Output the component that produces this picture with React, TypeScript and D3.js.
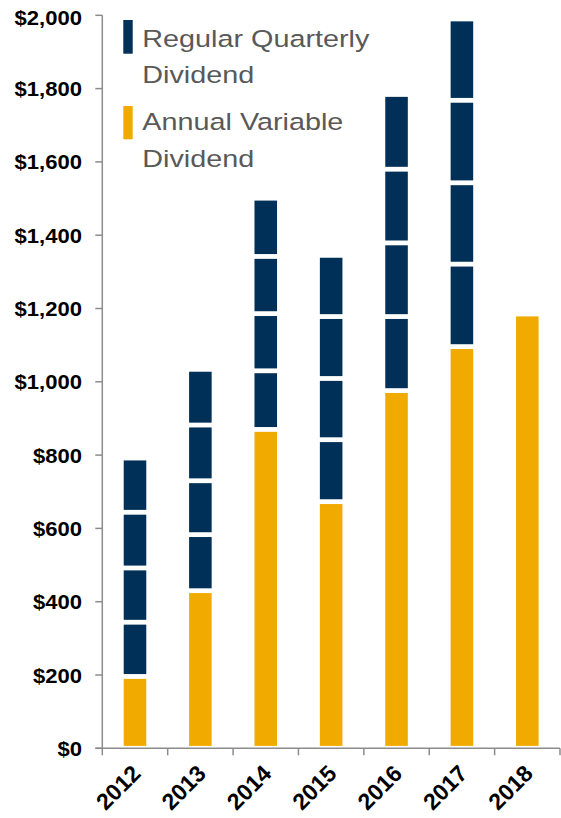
import React from "react";
import * as d3 from "d3";

const years = ["2012", "2013", "2014", "2015", "2016", "2017", "2018"];
const annualVariable = [196, 430, 870, 673, 976, 1096, 1185];
const quarter1 = [148, 153, 160, 169, 202, 225, 0];
const quarter2 = [148, 147, 156, 167, 201, 222, 0];
const quarter3 = [152, 152, 156, 169, 201, 225, 0];
const quarter4 = [148, 152, 159, 167, 204, 222, 0];
const yTicks = [0, 200, 400, 600, 800, 1000, 1200, 1400, 1600, 1800, 2000];
const legendLabels = [
  ["Regular Quarterly", "Dividend"],
  ["Annual Variable", "Dividend"],
];

const NAVY = "#003057";
const ORANGE = "#F1AB00";
const AXIS = "#8c8c8c";
const FONT = "'Liberation Sans', Arial, sans-serif";

export default function App() {
  const W = 561;
  const H = 818;
  const x0 = 102.3;
  const x1 = 560;
  const y = d3.scaleLinear().domain([0, 2000]).range([748.3, 15.3]);
  const x = d3
    .scaleBand<string>()
    .domain(years)
    .range([x0, x1])
    .paddingInner(0.655)
    .paddingOuter(0.3275);
  const step = x.step();
  const gap = 4.8;

  const segments: { key: string; x: number; y0: number; y1: number; color: string }[] = [];
  years.forEach((yr, i) => {
    const parts = [
      { v: annualVariable[i], c: ORANGE },
      { v: quarter1[i], c: NAVY },
      { v: quarter2[i], c: NAVY },
      { v: quarter3[i], c: NAVY },
      { v: quarter4[i], c: NAVY },
    ];
    let acc = 0;
    parts.forEach((p, j) => {
      if (p.v <= 0) return;
      segments.push({ key: `${yr}-${j}`, x: x(yr)!, y0: acc, y1: acc + p.v, color: p.c });
      acc += p.v;
    });
  });

  const fmt = (v: number) => "$" + d3.format(",")(v);
  const legendX = 142.3;
  const legendScale = 1.225;

  return (
    <svg
      width={W}
      height={H}
      style={{ position: "absolute", left: 0, top: 0, background: "#fff" }}
      fontFamily={FONT}
    >
      {/* bars */}
      {segments.map((s) => {
        const top = y(s.y1) + gap / 2;
        const bottom = y(s.y0) - gap / 2;
        return (
          <rect
            key={s.key}
            x={s.x}
            y={top}
            width={x.bandwidth()}
            height={Math.max(0, bottom - top)}
            fill={s.color}
          />
        );
      })}

      {/* y axis */}
      <line x1={x0} x2={x0} y1={y(2000)} y2={y(0)} stroke={AXIS} strokeWidth={1.5} />
      {yTicks.map((t) => (
        <g key={t}>
          <line x1={x0 - 7} x2={x0} y1={y(t)} y2={y(t)} stroke={AXIS} strokeWidth={1.5} />
          <text
            transform={`translate(82,${y(t) + 7.5 + (t === 2000 ? 2 : 0)}) scale(1.05,1)`}
            textAnchor="end"
            fontSize={21}
            fontWeight="bold"
            fill="#000"
          >
            {fmt(t)}
          </text>
        </g>
      ))}

      {/* x axis */}
      <line x1={x0 - 7} x2={x1} y1={y(0)} y2={y(0)} stroke={AXIS} strokeWidth={1.5} />
      {d3.range(years.length + 1).map((i) => (
        <line
          key={i}
          x1={x0 + i * step}
          x2={x0 + i * step}
          y1={y(0)}
          y2={y(0) + 7}
          stroke={AXIS}
          strokeWidth={1.5}
        />
      ))}
      {years.map((yr) => {
        const cx = x(yr)! + x.bandwidth() / 2;
        return (
          <text
            key={yr}
            transform={`translate(${cx + 7},${775}) rotate(-45)`}
            textAnchor="end"
            fontSize={23}
            fontWeight="bold"
            fill="#000"
          >
            {yr}
          </text>
        );
      })}

      {/* legend */}
      <rect x={123.3} y={20} width={9.4} height={33.7} fill={NAVY} />
      <rect x={123.3} y={106} width={9.4} height={33.3} fill={ORANGE} />
      {[
        { t: legendLabels[0][0], yy: 47.3 },
        { t: legendLabels[0][1], yy: 82.7 },
        { t: legendLabels[1][0], yy: 130 },
        { t: legendLabels[1][1], yy: 166.7 },
      ].map((l, i) => (
        <text
          key={i}
          transform={`translate(${legendX},${l.yy}) scale(${legendScale},1)`}
          fontSize={23.5}
          fill="#595959"
        >
          {l.t}
        </text>
      ))}
    </svg>
  );
}
